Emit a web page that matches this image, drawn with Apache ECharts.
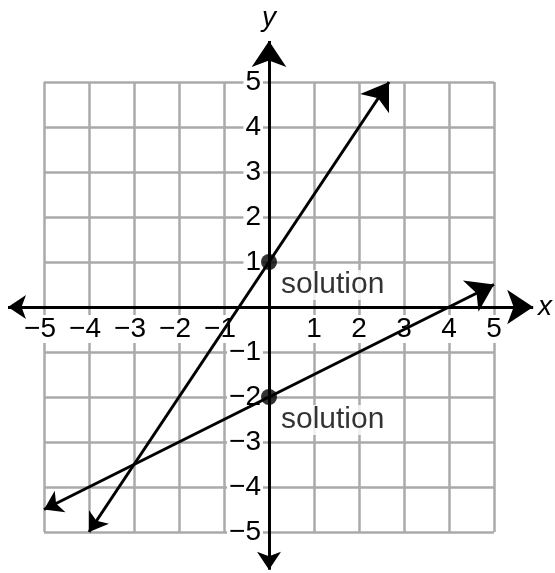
<!DOCTYPE html>
<html>
<head>
<meta charset="utf-8">
<script src="https://cdn.jsdelivr.net/npm/echarts@6/dist/echarts.min.js"></script>
<style>
  html, body { margin: 0; padding: 0; background: #fff; }
  #chart { width: 555px; height: 573px; }
</style>
</head>
<body>
<div id="chart"></div>
<script>
// tick values and their printed labels (0 is left blank)
const ticks = [-5, -4, -3, -2, -1, 0, 1, 2, 3, 4, 5];
const xTickLabels = ['−5', '−4', '−3', '−2', '−1', '', '1', '2', '3', '4', '5'];
const yTickLabels = ['−5', '−4', '−3', '−2', '−1', '', '1', '2', '3', '4', '5'];

// axis lines run a bit past the grid
const xAxisEnds = [[-5.8, 0], [5.87, 0]];
const yAxisEnds = [[0, -5.84], [0, 5.91]];

// the two graphed lines (end points)
const steepLine = [[-4, -5], [2.667, 5]];
const shallowLine = [[-5, -4.5], [5, 0.5]];

// y-intercepts marked as solutions
const solutionPoints = [[0, 1], [0, -2]];
const solutionLabels = ['solution', 'solution'];

const FONT = '"Liberation Sans", Arial, sans-serif';

const chart = echarts.init(document.getElementById('chart'));

// negative labels sit a little left of their grid line
const tickFormatter = labels => v => {
  const i = ticks.indexOf(Math.round(v));
  if (i < 0 || labels[i] === '') return '';
  return v < 0 ? '{n|' + labels[i] + '}' : labels[i];
};

const arrowLine = (ends) => ({
  coords: ends
});

// axes sit on zero: grid is 450px square, so zero is 225px in from the edge
chart.setOption({
  animation: false,
  backgroundColor: '#fff',
  grid: { left: 44, right: 61, top: 82, bottom: 41 },
  xAxis: {
    type: 'value',
    min: -5, max: 5, interval: 1,
    position: 'bottom',
    offset: -225,
    name: 'x',
    nameLocation: 'end',
    nameGap: 44,
    nameTextStyle: { fontFamily: FONT, fontStyle: 'italic', fontSize: 28, color: '#000', verticalAlign: 'middle', align: 'left', padding: [0, 0, 4, 0] },
    axisLine: { onZero: false, lineStyle: { color: '#000', width: 3 } },
    axisTick: { show: false },
    axisLabel: {
      formatter: tickFormatter(xTickLabels),
      fontFamily: FONT, fontSize: 28, color: '#000',
      margin: 8,
      backgroundColor: '#fff', padding: [0, 2],
      rich: { n: { fontFamily: FONT, fontSize: 28, color: '#000', padding: [0, 8, 0, 0] } }
    },
    splitLine: { show: true, lineStyle: { color: '#aaaaaa', width: 2.5 } }
  },
  yAxis: {
    type: 'value',
    min: -5, max: 5, interval: 1,
    position: 'left',
    offset: -225,
    name: 'y',
    nameLocation: 'end',
    nameGap: 50,
    nameTextStyle: { fontFamily: FONT, fontStyle: 'italic', fontSize: 28, color: '#000', align: 'center', verticalAlign: 'bottom' },
    axisLine: { onZero: false, lineStyle: { color: '#000', width: 3 } },
    axisTick: { show: false },
    axisLabel: {
      formatter: tickFormatter(yTickLabels),
      fontFamily: FONT, fontSize: 28, color: '#000',
      margin: 6,
      backgroundColor: '#fff', padding: [0, 2],
      rich: { n: { fontFamily: FONT, fontSize: 28, color: '#000' } }
    },
    splitLine: { show: true, lineStyle: { color: '#aaaaaa', width: 2.5 } }
  },
  series: [
    {
      type: 'lines',
      coordinateSystem: 'cartesian2d',
      clip: false,
      symbol: ['arrow', 'arrow'],
      symbolSize: [18, 26],
      symbolOffset: [0, 13],
      lineStyle: { color: '#000', width: 3, opacity: 1 },
      data: [arrowLine(xAxisEnds), arrowLine(yAxisEnds), arrowLine(steepLine), arrowLine(shallowLine)],
      z: 3
    },
    {
      type: 'scatter',
      symbol: 'circle',
      symbolSize: 16,
      itemStyle: { color: '#000' },
      data: solutionPoints.map((p, i) => ({ value: p, name: solutionLabels[i] })),
      label: {
        show: true,
        position: 'right',
        distance: 2,
        offset: [0, 23],
        formatter: p => p.name,
        fontFamily: FONT, fontSize: 30, color: '#000',
        backgroundColor: '#fff', padding: [0, 6, 0, 2]
      },
      z: 4
    }
  ]
});
</script>
</body>
</html>
